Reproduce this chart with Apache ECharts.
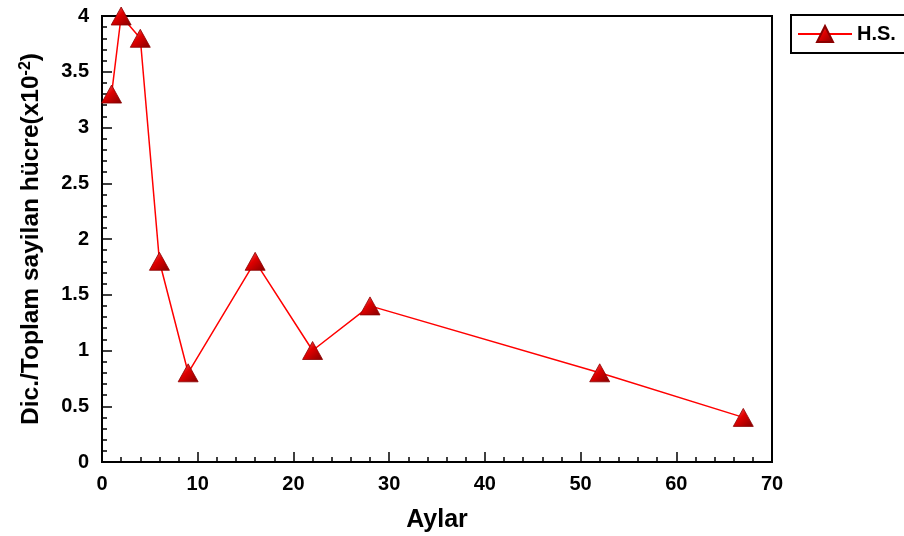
<!DOCTYPE html>
<html><head><meta charset="utf-8">
<script src="https://cdn.jsdelivr.net/npm/echarts@6/dist/echarts.min.js"></script>
<style>html,body{margin:0;padding:0;background:#fff}#c{width:904px;height:536px}</style>
</head><body><div id="c"></div>
<script>
const months = [1, 2, 4, 6, 9, 16, 22, 28, 52, 67];
const ratio = [3.3, 4.0, 3.8, 1.8, 0.8, 1.8, 1.0, 1.4, 0.8, 0.4];
const seriesName = 'H.S.';
const xTitle = 'Aylar';
const yTitle = 'Dic./Toplam sayilan hücre(x10{sup|-2})';

const chart = echarts.init(document.getElementById('c'), null, {renderer: 'canvas'});
const font = 'Liberation Sans, Arial, sans-serif';
const markerColor = new echarts.graphic.LinearGradient(0, 0, 1, 1, [
  {offset: 0, color: '#ff7070'},
  {offset: 0.45, color: '#e00000'},
  {offset: 1, color: '#800000'}
]);
chart.setOption({
  animation: false,
  grid: {left: 102, right: 132, top: 16, bottom: 74, show: true, borderColor: '#000', borderWidth: 2,
         backgroundColor: 'transparent', containLabel: false, outerBoundsMode: 'none'},
  legend: {
    left: 791, top: 15,
    padding: [9, 40, 9, 6],
    borderColor: '#000', borderWidth: 2,
    itemWidth: 54, itemHeight: 20, itemGap: 6,
    textStyle: {fontFamily: font, fontWeight: 'bold', fontSize: 20, color: '#000'},
    data: [seriesName]
  },
  xAxis: {
    type: 'value', min: 0, max: 70, interval: 10,
    name: xTitle, nameLocation: 'middle', nameGap: 46,
    nameTextStyle: {fontFamily: font, fontWeight: 'bold', fontSize: 25, color: '#000'},
    axisLine: {show: true, onZero: false, lineStyle: {color: '#000', width: 2}},
    axisTick: {show: true, inside: true, length: 10, lineStyle: {color: '#000', width: 1.5}},
    minorTick: {show: true, splitNumber: 5, length: 5, lineStyle: {color: '#000', width: 1.5}},
    axisLabel: {fontFamily: font, fontWeight: 'bold', fontSize: 20, color: '#000', margin: 12},
    splitLine: {show: false}
  },
  yAxis: {
    type: 'value', min: 0, max: 4, interval: 0.5,
    name: yTitle, nameLocation: 'middle', nameGap: 58, nameRotate: 90,
    nameTextStyle: {fontFamily: font, fontWeight: 'bold', fontSize: 24.5, color: '#000',
      rich: {sup: {fontFamily: font, fontWeight: 'bold', fontSize: 16, color: '#000', verticalAlign: 'top', padding: [0, 0, 10, 0]}}},
    axisLine: {show: true, onZero: false, lineStyle: {color: '#000', width: 2}},
    axisTick: {show: true, inside: true, length: 10, lineStyle: {color: '#000', width: 1.5}},
    minorTick: {show: true, splitNumber: 5, length: 5, lineStyle: {color: '#000', width: 1.5}},
    axisLabel: {fontFamily: font, fontWeight: 'bold', fontSize: 20, color: '#000', margin: 13},
    splitLine: {show: false}
  },
  series: [{
    name: seriesName, type: 'line',
    data: months.map((m, i) => [m, ratio[i]]),
    symbol: 'triangle', symbolSize: [20, 18],
    lineStyle: {color: '#ff0000', width: 1.5},
    itemStyle: {color: markerColor, borderColor: '#8b0000', borderWidth: 0.8},
    z: 5
  }]
});
</script></body></html>
